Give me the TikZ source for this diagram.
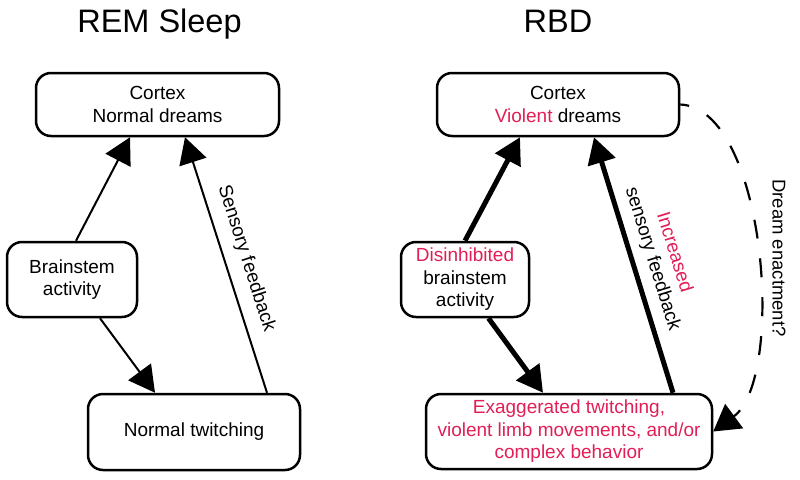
\documentclass[tikz,border=0pt]{standalone}
\usepackage{fontspec}
\setmainfont{Liberation Sans}
\usetikzlibrary{arrows.meta}
\definecolor{rbdred}{RGB}{226,30,86}
\tikzset{
  box/.style={draw=black, line width=2.5pt, rounded corners=15pt, align=center,
    inner sep=0pt, font=\fontsize{19}{22.5}\selectfont},
  title/.style={font=\fontsize{32.5}{36}\selectfont, anchor=base},
  thinarr/.style={line width=2pt, -{Triangle[length=26pt,width=28pt]}},
  thickarr/.style={line width=5pt, -{Triangle[length=26pt,width=28pt]}},
  lbl/.style={font=\fontsize{19}{22.5}\selectfont, align=center, sloped}
}
\begin{document}
\begin{tikzpicture}[x=1pt,y=-1pt]
\useasboundingbox (0,0) rectangle (800,479);
% titles
\node[title] (t1) at (159.5,32) {REM Sleep};
\node[title] (t2) at (558,32) {RBD};
% left panel
\node[box, minimum width=243pt, minimum height=63pt] (cx) at (157.5,104.5) {Cortex\\Normal dreams};
\node[box, minimum width=130pt, minimum height=75pt] (bs) at (72,279.5) {Brainstem\\activity};
\node[box, minimum width=212pt, minimum height=76pt] (tw) at (194,432) {Normal twitching};
\draw[thinarr] ([xshift=4pt]bs.north) -- ([xshift=-27.5pt]cx.south);
\draw[thinarr] ([xshift=28pt]bs.south) -- ([xshift=-39pt]tw.north);
\draw[thinarr] ([xshift=73pt]tw.north) -- node[lbl, above=8pt, pos=0.5] (sf) {Sensory feedback} ([xshift=27.5pt]cx.south);
% right panel
\node[box, minimum width=242pt, minimum height=63pt] (rc) at (558,104.5) {Cortex\\{\color{rbdred}Violent} dreams};
\node[box, minimum width=128pt, minimum height=75pt] (dis) at (465,279.5) {{\color{rbdred}Disinhibited}\\brainstem\\activity};
\node[box, minimum width=286pt, minimum height=75pt, text=rbdred] (bot) at (569,431.5) {Exaggerated twitching,\\violent limb movements, and/or\\complex behavior};
\draw[thickarr] (dis.north) -- ([xshift=-38pt]rc.south);
\draw[thickarr] ([xshift=23.5pt]dis.south) -- ([xshift=-26pt]bot.north);
\draw[thickarr] ([xshift=104pt]bot.north) -- node[lbl, above=5pt, pos=0.5] (isf) {{\color{rbdred}Increased}\\sensory feedback} ([xshift=36pt]rc.south);
\draw[line width=2.2pt, dash pattern=on 19pt off 20pt, dash phase=10pt, -{Triangle[length=26pt,width=30pt]}]
  (rc.east) .. controls (766,108) and (786,378) .. (bot.east);
\node[font=\fontsize{18.5}{22}\selectfont, rotate=-90] (de) at (779,258) {Dream enactment?};
\end{tikzpicture}
\end{document}
